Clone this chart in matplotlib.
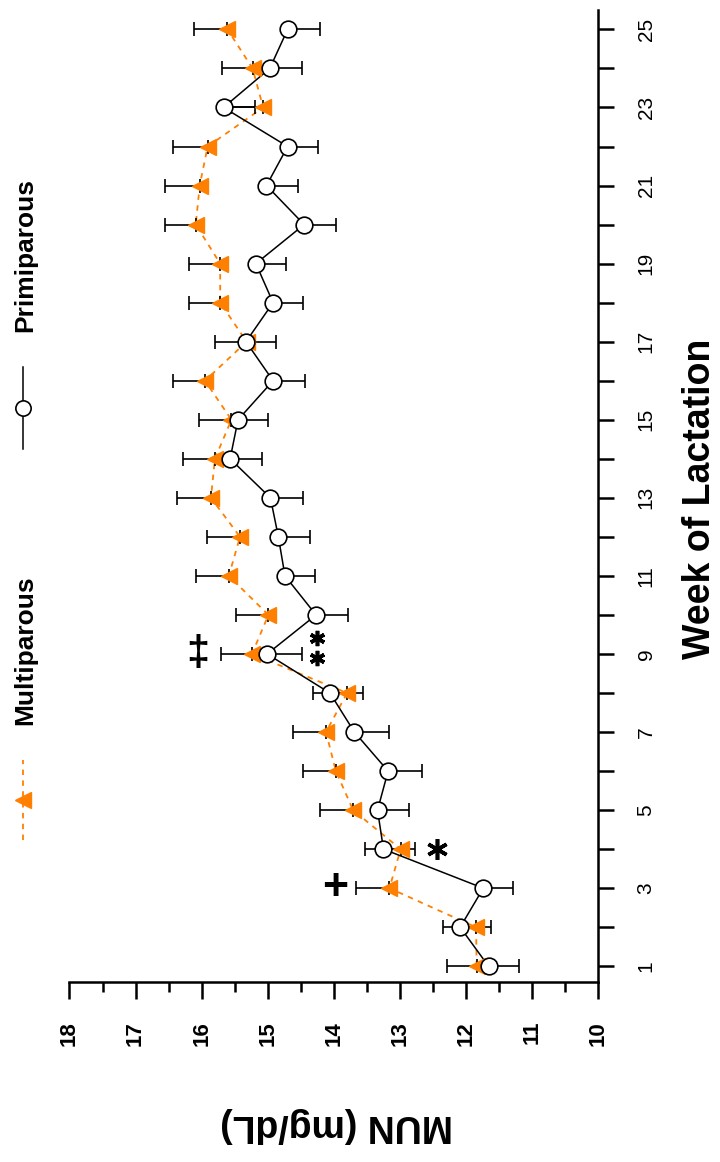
import matplotlib
matplotlib.use("Agg")
import matplotlib.pyplot as plt
from matplotlib.lines import Line2D
import numpy as np

# MUN by week of lactation, drawn rotated 90 degrees like the source figure
weeks = np.arange(1, 26)

multi_mean = [11.84, 11.85, 13.16, 12.99, 13.71, 13.97, 14.12, 13.80, 15.24, 14.99,
              15.59, 15.42, 15.86, 15.80, 15.55, 15.95, 15.32, 15.72, 15.72, 16.09,
              16.03, 15.91, 15.07, 15.23, 15.61]
multi_se = [0.45, 0.50, 0.51, 0.54, 0.50, 0.50, 0.50, 0.51, 0.47, 0.49,
            0.50, 0.50, 0.52, 0.49, 0.49, 0.49, 0.48, 0.47, 0.47, 0.47,
            0.53, 0.53, 0.48, 0.46, 0.50]

primi_mean = [11.66, 12.09, 11.74, 13.25, 13.34, 13.18, 13.69, 14.06, 15.01, 14.27,
              14.74, 14.84, 14.96, 15.57, 15.45, 14.92, 15.33, 14.92, 15.18, 14.45,
              15.02, 14.70, 15.67, 14.97, 14.70]
primi_se = [0.46, 0.46, 0.45, 0.47, 0.47, 0.51, 0.52, 0.50, 0.52, 0.49,
            0.45, 0.48, 0.50, 0.48, 0.46, 0.48, 0.46, 0.46, 0.46, 0.48,
            0.47, 0.46, 0.48, 0.48, 0.49]

# significance marks: (symbol, MUN position, week)
star_mun = [12.44, 14.26, 14.26]
star_week = [4.0, 9.4, 8.9]
star_size = [15, 11, 11]
dagger_marks = [("+", 13.98, 3), ("\u2021", 16.06, 9)]

orange = "#FF8000"
plt.rcParams['font.family'] = ['Liberation Sans', 'DejaVu Sans']

fig = plt.figure(figsize=(7.2, 11.62), dpi=100)
ax = fig.add_axes([0.0965, 0.155, 0.7345, 0.8365])

zeros = np.zeros(len(weeks))

# multiparous: dashed orange, error bar towards higher MUN
ax.plot(multi_mean, weeks, color=orange, lw=1.3, ls=(0, (3, 3)), zorder=2)
ax.errorbar(multi_mean, weeks, xerr=[zeros, multi_se], fmt='none', ecolor='black',
            elinewidth=1.2, capsize=5, capthick=1.2, zorder=3)
ax.plot(multi_mean, weeks, ls='none', marker='<', ms=12, color=orange, mec=orange, zorder=4)

# primiparous: black solid, open circles, error bar towards lower MUN
ax.plot(primi_mean, weeks, color='black', lw=1.1, zorder=2)
ax.errorbar(primi_mean, weeks, xerr=[primi_se, zeros], fmt='none', ecolor='black',
            elinewidth=1.2, capsize=5, capthick=1.2, zorder=3)
ax.plot(primi_mean, weeks, ls='none', marker='o', ms=12, mfc='white', mec='black',
        mew=1.2, zorder=5)

# asterisks as markers so they sit exactly where they should
for xv, wv, sz in zip(star_mun, star_week, star_size):
    ax.plot([xv], [wv], ls='none', marker=(6, 2, 0), ms=sz, mew=2.6, color='black', zorder=6)

for sym, xv, wv in dagger_marks:
    size = 32 if sym == "+" else 30
    ax.text(xv, wv, sym, ha='center', va='center', fontsize=size, fontweight='bold')

ax.set_xlim(18, 10)
ax.set_ylim(0.6, 25.5)

ax.spines['left'].set_visible(False)
ax.spines['top'].set_visible(False)
ax.spines['bottom'].set_linewidth(1.8)
ax.spines['right'].set_linewidth(1.8)

ax.set_xticks(np.arange(10, 19))
ax.set_xticks(np.arange(10.5, 18, 1), minor=True)
ax.set_xticklabels([str(v) for v in range(10, 19)], rotation=90, fontsize=16, fontweight='bold')
ax.tick_params(axis='x', which='major', direction='out', length=12, width=1.8, pad=16)
ax.tick_params(axis='x', which='minor', direction='out', length=7, width=1.8)

ax.yaxis.tick_right()
ax.set_yticks(weeks)
ax.set_yticklabels([str(w) if w % 2 == 1 else '' for w in weeks], rotation=90,
                   fontsize=15, va='center')
ax.tick_params(axis='y', which='major', direction='out', length=11.5, width=1.8, pad=16)

fig.text(0.972, 0.571, "Week of Lactation", rotation=90, ha='center', va='center',
         fontsize=27, fontweight='bold')
fig.text(0.468, 0.032, "MUN (mg/dL)", rotation=180, ha='center', va='center',
         fontsize=27, fontweight='bold')

# hand-placed legend, rotated with the chart
fig.add_artist(Line2D([0.032, 0.032], [0.614, 0.684], transform=fig.transFigure,
                      color='black', lw=1.1))
fig.add_artist(Line2D([0.032], [0.649], transform=fig.transFigure, ls='none',
                      marker='o', ms=11, mfc='white', mec='black', mew=1.2))
fig.text(0.035, 0.7806, "Primiparous", rotation=90, ha='center', va='center',
         fontsize=19, fontweight='bold')

fig.add_artist(Line2D([0.032, 0.032], [0.277, 0.346], transform=fig.transFigure,
                      color=orange, lw=1.3, ls=(0, (3, 3))))
fig.add_artist(Line2D([0.032], [0.3115], transform=fig.transFigure, ls='none',
                      marker='<', ms=12, color=orange))
fig.text(0.035, 0.4406, "Multiparous", rotation=90, ha='center', va='center',
         fontsize=19, fontweight='bold')

fig.savefig("out.png", dpi=100)
